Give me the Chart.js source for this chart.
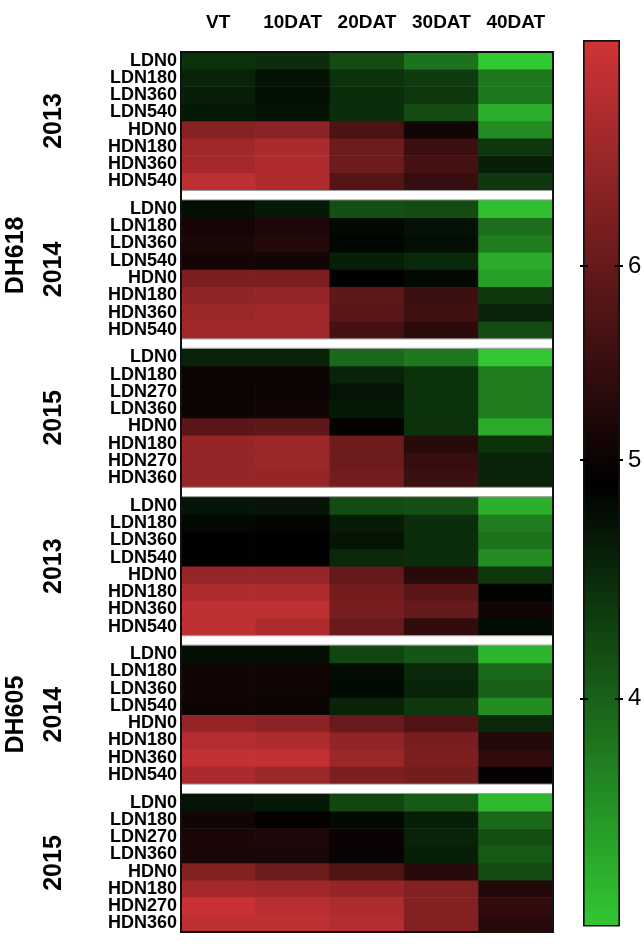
<!DOCTYPE html>
<html>
<head>
<meta charset="utf-8">
<script src="https://cdn.jsdelivr.net/npm/chart.js@4.4.1/dist/chart.umd.min.js"></script>
<style>
  body { margin: 0; background: #fff; }
  #wrap { position: relative; width: 644px; height: 949px; }
  #wrap canvas { position: absolute; left: 0; top: 0; }
</style>
</head>
<body>
<div id="wrap">
  <canvas id="heat" width="644" height="949"></canvas>
  <canvas id="bar" width="644" height="949"></canvas>
</div>
<script>
var columns = ["VT", "10DAT", "20DAT", "30DAT", "40DAT"];
var rowsA = ["LDN0", "LDN180", "LDN360", "LDN540", "HDN0", "HDN180", "HDN360", "HDN540"];
var rowsB = ["LDN0", "LDN180", "LDN270", "LDN360", "HDN0", "HDN180", "HDN270", "HDN360"];
var cultivars = ["DH618", "DH605"];
var years = ["2013", "2014", "2015", "2013", "2014", "2015"];
var barTicks = [4, 5, 6];

// each row: VT, 10DAT, 20DAT, 30DAT, 40DAT
var dh618_2013 = [
  [4.43, 4.47, 4.20, 3.84, 3.07],
  [4.56, 4.72, 4.43, 4.34, 3.79],
  [4.61, 4.74, 4.47, 4.38, 3.79],
  [4.65, 4.72, 4.47, 4.20, 3.30],
  [6.37, 6.42, 5.71, 5.08, 3.61],
  [6.64, 6.75, 6.09, 5.54, 4.38],
  [6.70, 6.81, 6.09, 5.65, 4.61],
  [6.97, 6.81, 5.82, 5.49, 4.38]
];
var dh618_2014 = [
  [4.74, 4.65, 4.16, 4.20, 3.16],
  [5.12, 5.21, 4.81, 4.72, 3.88],
  [5.19, 5.27, 4.83, 4.74, 3.75],
  [5.10, 5.08, 4.61, 4.52, 3.34],
  [6.26, 6.26, 4.90, 4.79, 3.43],
  [6.48, 6.53, 5.93, 5.54, 4.38],
  [6.59, 6.64, 5.87, 5.60, 4.56],
  [6.64, 6.64, 5.65, 5.38, 4.20]
];
var dh618_2015 = [
  [4.56, 4.56, 3.93, 3.79, 3.08],
  [5.01, 5.01, 4.56, 4.43, 3.75],
  [5.01, 5.05, 4.70, 4.43, 3.75],
  [5.05, 5.08, 4.65, 4.43, 3.75],
  [5.87, 5.93, 4.94, 4.43, 3.34],
  [6.53, 6.59, 6.09, 5.32, 4.43],
  [6.53, 6.59, 6.09, 5.49, 4.56],
  [6.53, 6.53, 6.15, 5.54, 4.56]
];
var dh605_2013 = [
  [4.68, 4.70, 4.20, 4.16, 3.30],
  [4.81, 4.83, 4.63, 4.47, 3.75],
  [4.87, 4.87, 4.70, 4.47, 3.84],
  [4.87, 4.87, 4.52, 4.47, 3.61],
  [6.53, 6.53, 5.98, 5.32, 4.38],
  [6.81, 6.81, 6.15, 5.87, 4.85],
  [6.97, 6.97, 6.20, 5.98, 5.08],
  [6.97, 6.81, 6.04, 5.43, 4.77]
];
var dh605_2014 = [
  [4.74, 4.74, 4.25, 4.11, 3.25],
  [5.08, 5.06, 4.77, 4.52, 3.93],
  [5.10, 5.08, 4.81, 4.56, 4.02],
  [5.05, 5.01, 4.56, 4.38, 3.61],
  [6.53, 6.42, 6.04, 5.76, 4.52],
  [6.86, 6.81, 6.48, 6.20, 5.27],
  [7.03, 7.03, 6.59, 6.26, 5.43],
  [6.75, 6.59, 6.26, 6.15, 4.94]
];
var dh605_2015 = [
  [4.70, 4.65, 4.25, 4.07, 3.21],
  [5.08, 4.94, 4.81, 4.61, 3.93],
  [5.19, 5.21, 4.99, 4.56, 4.16],
  [5.16, 5.16, 4.97, 4.61, 4.07],
  [6.31, 6.09, 5.76, 5.32, 4.20],
  [6.70, 6.64, 6.53, 6.31, 5.27],
  [7.08, 6.92, 6.81, 6.31, 5.43],
  [6.97, 6.97, 6.86, 6.31, 5.32]
];

var blocks = [dh618_2013, dh618_2014, dh618_2015, dh605_2013, dh605_2014, dh605_2015];
var blockRows = [rowsA, rowsA, rowsB, rowsA, rowsA, rowsB];

// colour scale: green -> black -> red, two linear halves
var scaleMin = 3.07, scaleMid = 4.88, scaleMax = 7.17;
var lowColor = [50, 200, 50], highColor = [208, 52, 55];

function frac(v) {
  var f = v <= scaleMid
    ? 0.5 * (v - scaleMin) / (scaleMid - scaleMin)
    : 0.5 + 0.5 * (v - scaleMid) / (scaleMax - scaleMid);
  return Math.max(0, Math.min(1, f));
}
function colorFor(v) {
  var f = frac(v);
  var end = f < 0.5 ? lowColor : highColor;
  var t = Math.abs(f - 0.5) / 0.5;
  return "rgb(" + end.map(function (c) { return Math.round(c * t); }).join(",") + ")";
}

var font = "'Liberation Sans', Arial, sans-serif";
var gapRows = 0.6;
var blockSpan = 8 + gapRows;
var totalRows = blocks.length * 8 + (blocks.length - 1) * gapRows;

var rowLabels = [], rowCenters = [], datasets = [];
blocks.forEach(function (block, b) {
  block.forEach(function (vals, r) {
    var top = b * blockSpan + r;
    rowLabels.push(blockRows[b][r]);
    rowCenters.push(top + 0.5);
    datasets.push({
      data: vals.map(function () { return [top, top + 1]; }),
      backgroundColor: vals.map(colorFor),
      borderWidth: 0,
      grouped: false,
      barPercentage: 1,
      categoryPercentage: 1
    });
  });
});

var heatLeft = 181, heatRight = 553, heatTop = 52, heatBottom = 932;
var barLeft = 583, barRight = 620, barTop = 40, barBottom = 932;

var sideLabels = {
  id: "sideLabels",
  afterDraw: function (chart) {
    var ctx = chart.ctx, a = chart.chartArea, y = chart.scales.y;
    ctx.save();
    // white separators between year blocks
    ctx.strokeStyle = "#999";
    ctx.lineWidth = 1;
    for (var b = 0; b < blocks.length - 1; b++) {
      var g0 = y.getPixelForValue(b * blockSpan + 8);
      var g1 = y.getPixelForValue((b + 1) * blockSpan);
      ctx.strokeRect(a.left, g0 + 0.5, a.width, g1 - g0 - 1);
    }
    ctx.strokeStyle = "#111";
    ctx.lineWidth = 2;
    ctx.strokeRect(a.left, a.top, a.width, a.height);

    ctx.fillStyle = "#000";
    ctx.textAlign = "center";
    ctx.textBaseline = "middle";
    ctx.font = "bold 25px " + font;
    years.forEach(function (yr, b) {
      var mid = y.getPixelForValue(b * blockSpan + 4);
      ctx.save();
      ctx.translate(54, mid);
      ctx.rotate(-Math.PI / 2);
      ctx.fillText(yr, 0, 0);
      ctx.restore();
    });
    // DH618 sits a little above its group centre in the original
    var shift = [-14, 0];
    cultivars.forEach(function (c, k) {
      var mid = y.getPixelForValue(3 * k * blockSpan + blockSpan + 4) + shift[k];
      ctx.save();
      ctx.translate(16, mid);
      ctx.rotate(-Math.PI / 2);
      ctx.fillText(c, 0, 0);
      ctx.restore();
    });
    ctx.restore();
  }
};

new Chart(document.getElementById("heat"), {
  type: "bar",
  data: { labels: columns, datasets: datasets },
  options: {
    responsive: false,
    animation: false,
    layout: { padding: { left: 0, right: 644 - heatRight, top: 0, bottom: 949 - heatBottom } },
    plugins: { legend: { display: false }, tooltip: { enabled: false } },
    scales: {
      x: {
        position: "top",
        grid: { display: false, drawTicks: false },
        border: { display: false },
        ticks: { color: "#000", padding: 18, maxRotation: 0, font: { family: font, size: 19, weight: "bold" } },
        afterFit: function (s) { s.height = heatTop; }
      },
      y: {
        reverse: true,
        min: 0,
        max: totalRows,
        grid: { display: false, drawTicks: false },
        border: { display: false },
        afterBuildTicks: function (s) {
          s.ticks = rowCenters.map(function (v) { return { value: v }; });
        },
        ticks: {
          autoSkip: false,
          color: "#000",
          padding: 4,
          font: { family: font, size: 18, weight: "bold" },
          callback: function (v, i) { return rowLabels[i]; }
        },
        afterFit: function (s) { s.width = heatLeft; }
      }
    }
  },
  plugins: [sideLabels]
});

// colour bar
var barMarks = {
  id: "barMarks",
  afterDatasetsDraw: function (chart) {
    var ctx = chart.ctx, a = chart.chartArea, y = chart.scales.y;
    ctx.save();
    ctx.strokeStyle = "#000";
    ctx.lineWidth = 2;
    y.ticks.forEach(function (t) {
      var py = Math.round(y.getPixelForValue(t.value));
      ctx.beginPath();
      ctx.moveTo(a.left - 3, py); ctx.lineTo(a.left + 5, py);
      ctx.moveTo(a.right - 5, py); ctx.lineTo(a.right + 3, py);
      ctx.stroke();
    });
    ctx.restore();
  }
};

new Chart(document.getElementById("bar"), {
  type: "bar",
  data: {
    labels: [""],
    datasets: [{
      data: [[0, 1]],
      backgroundColor: function (c) {
        var area = c.chart.chartArea;
        if (!area) return "#000";
        var g = c.chart.ctx.createLinearGradient(0, area.bottom, 0, area.top);
        g.addColorStop(0, "rgb(" + lowColor.join(",") + ")");
        g.addColorStop(0.5, "rgb(0,0,0)");
        g.addColorStop(1, "rgb(" + highColor.join(",") + ")");
        return g;
      },
      borderColor: "#111",
      borderWidth: 2,
      borderSkipped: false,
      barPercentage: 1,
      categoryPercentage: 1
    }]
  },
  options: {
    responsive: false,
    animation: false,
    layout: { padding: { left: barLeft, right: 0, top: barTop, bottom: 949 - barBottom } },
    plugins: { legend: { display: false }, tooltip: { enabled: false } },
    scales: {
      x: { display: false },
      y: {
        position: "right",
        min: 0,
        max: 1,
        grid: { display: false, drawTicks: false },
        border: { display: false },
        afterBuildTicks: function (s) {
          s.ticks = barTicks.map(function (v) { return { value: frac(v) }; });
        },
        ticks: {
          autoSkip: false,
          color: "#000",
          padding: 8,
          font: { family: font, size: 24 },
          callback: function (v, i) { return String(barTicks[i]); }
        },
        afterFit: function (s) { s.width = 644 - barRight; }
      }
    }
  },
  plugins: [barMarks]
});
</script>
</body>
</html>
